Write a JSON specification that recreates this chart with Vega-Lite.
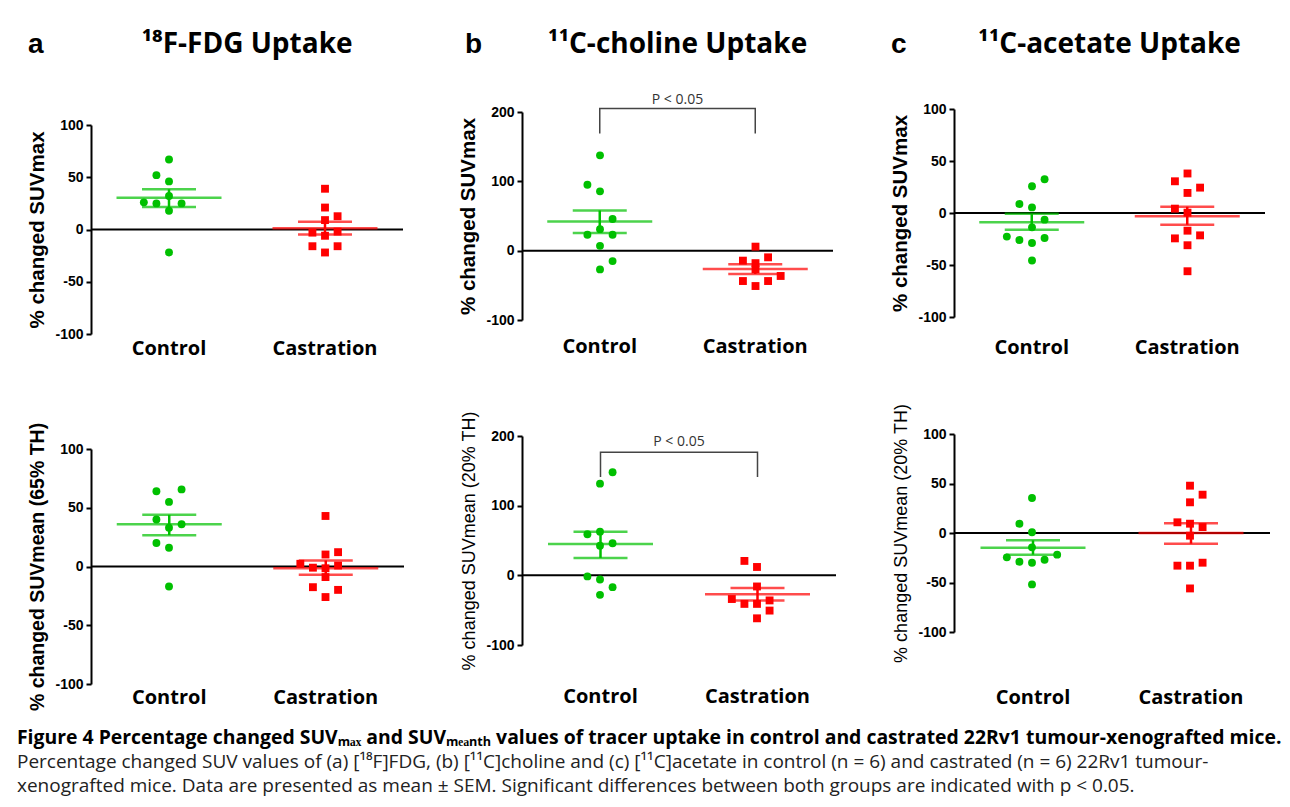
{
"$schema": "https://vega.github.io/schema/vega-lite/v6.json",
"background": "white",
"padding": {"left": 16, "top": 31, "right": 5, "bottom": 5},
"datasets": {
"pts": [
{"p":"a1","g":"Control","v":67,"c":0},{"p":"a1","g":"Control","v":52,"c":-1},{"p":"a1","g":"Control","v":46,"c":0},{"p":"a1","g":"Control","v":32,"c":0},{"p":"a1","g":"Control","v":26,"c":-2},{"p":"a1","g":"Control","v":25,"c":-1},{"p":"a1","g":"Control","v":25,"c":1},{"p":"a1","g":"Control","v":18,"c":0},{"p":"a1","g":"Control","v":-22,"c":0},
{"p":"a1","g":"Castration","v":39,"c":0},{"p":"a1","g":"Castration","v":21,"c":0},{"p":"a1","g":"Castration","v":12.7,"c":1},{"p":"a1","g":"Castration","v":9,"c":0},{"p":"a1","g":"Castration","v":-3,"c":-1},{"p":"a1","g":"Castration","v":-6,"c":0},{"p":"a1","g":"Castration","v":-2,"c":1},{"p":"a1","g":"Castration","v":-16,"c":-1},{"p":"a1","g":"Castration","v":-16,"c":1},{"p":"a1","g":"Castration","v":-22,"c":0},
{"p":"a2","g":"Control","v":64,"c":-1},{"p":"a2","g":"Control","v":65.6,"c":1},{"p":"a2","g":"Control","v":55,"c":0},{"p":"a2","g":"Control","v":40,"c":-1},{"p":"a2","g":"Control","v":33,"c":0},{"p":"a2","g":"Control","v":36,"c":1},{"p":"a2","g":"Control","v":20,"c":-1},{"p":"a2","g":"Control","v":16,"c":0},{"p":"a2","g":"Control","v":-17,"c":0},
{"p":"a2","g":"Castration","v":43,"c":0},{"p":"a2","g":"Castration","v":10.2,"c":0},{"p":"a2","g":"Castration","v":12.2,"c":1},{"p":"a2","g":"Castration","v":2.3,"c":-2},{"p":"a2","g":"Castration","v":-1,"c":-1},{"p":"a2","g":"Castration","v":-1.5,"c":0},{"p":"a2","g":"Castration","v":0.8,"c":1},{"p":"a2","g":"Castration","v":-9,"c":0},{"p":"a2","g":"Castration","v":-17.6,"c":-1},{"p":"a2","g":"Castration","v":-19.9,"c":1},{"p":"a2","g":"Castration","v":-26,"c":0},
{"p":"b1","g":"Control","v":137.5,"c":0},{"p":"b1","g":"Control","v":95,"c":-1},{"p":"b1","g":"Control","v":85.6,"c":0},{"p":"b1","g":"Control","v":45.7,"c":1},{"p":"b1","g":"Control","v":31,"c":0},{"p":"b1","g":"Control","v":23,"c":-1},{"p":"b1","g":"Control","v":23,"c":1},{"p":"b1","g":"Control","v":7,"c":0},{"p":"b1","g":"Control","v":-15,"c":1},{"p":"b1","g":"Control","v":-27,"c":0},
{"p":"b1","g":"Castration","v":5.8,"c":0},{"p":"b1","g":"Castration","v":-14.4,"c":-1},{"p":"b1","g":"Castration","v":-9.6,"c":1},{"p":"b1","g":"Castration","v":-18,"c":0},{"p":"b1","g":"Castration","v":-27,"c":0},{"p":"b1","g":"Castration","v":-36.5,"c":2},{"p":"b1","g":"Castration","v":-43.8,"c":-1},{"p":"b1","g":"Castration","v":-43.8,"c":1},{"p":"b1","g":"Castration","v":-51,"c":0},
{"p":"b2","g":"Control","v":148,"c":1},{"p":"b2","g":"Control","v":131.6,"c":0},{"p":"b2","g":"Control","v":59,"c":-1},{"p":"b2","g":"Control","v":62.7,"c":0},{"p":"b2","g":"Control","v":46,"c":1},{"p":"b2","g":"Control","v":42.4,"c":0},{"p":"b2","g":"Control","v":-1.5,"c":-1},{"p":"b2","g":"Control","v":-6,"c":0},{"p":"b2","g":"Control","v":-17,"c":1},{"p":"b2","g":"Control","v":-28,"c":0},
{"p":"b2","g":"Castration","v":20.7,"c":-1},{"p":"b2","g":"Castration","v":12,"c":0},{"p":"b2","g":"Castration","v":-16,"c":0},{"p":"b2","g":"Castration","v":-34,"c":-2},{"p":"b2","g":"Castration","v":-41,"c":-1},{"p":"b2","g":"Castration","v":-41,"c":0},{"p":"b2","g":"Castration","v":-36,"c":1},{"p":"b2","g":"Castration","v":-50.6,"c":1},{"p":"b2","g":"Castration","v":-61.7,"c":0},
{"p":"c1","g":"Control","v":32.5,"c":1},{"p":"c1","g":"Control","v":25.7,"c":0},{"p":"c1","g":"Control","v":8.7,"c":-1},{"p":"c1","g":"Control","v":5.4,"c":0},{"p":"c1","g":"Control","v":-6.4,"c":1},{"p":"c1","g":"Control","v":-13.8,"c":0},{"p":"c1","g":"Control","v":-22.7,"c":-2},{"p":"c1","g":"Control","v":-26,"c":-1},{"p":"c1","g":"Control","v":-24,"c":1},{"p":"c1","g":"Control","v":-28.8,"c":0},{"p":"c1","g":"Control","v":-45.7,"c":0},
{"p":"c1","g":"Castration","v":38,"c":0},{"p":"c1","g":"Castration","v":30.5,"c":-1},{"p":"c1","g":"Castration","v":24.4,"c":1},{"p":"c1","g":"Castration","v":19.3,"c":0},{"p":"c1","g":"Castration","v":4.2,"c":-1},{"p":"c1","g":"Castration","v":0.3,"c":0},{"p":"c1","g":"Castration","v":-17,"c":0},{"p":"c1","g":"Castration","v":-24.4,"c":-1},{"p":"c1","g":"Castration","v":-21.5,"c":1},{"p":"c1","g":"Castration","v":-31,"c":0},{"p":"c1","g":"Castration","v":-56,"c":0},
{"p":"c2","g":"Control","v":35.4,"c":0},{"p":"c2","g":"Control","v":9.4,"c":-1},{"p":"c2","g":"Control","v":0.7,"c":0},{"p":"c2","g":"Control","v":-14.5,"c":0},{"p":"c2","g":"Control","v":-24.6,"c":-2},{"p":"c2","g":"Control","v":-21.9,"c":2},{"p":"c2","g":"Control","v":-29,"c":-1},{"p":"c2","g":"Control","v":-30,"c":0},{"p":"c2","g":"Control","v":-27,"c":1},{"p":"c2","g":"Control","v":-51.9,"c":0},
{"p":"c2","g":"Castration","v":47.8,"c":0},{"p":"c2","g":"Castration","v":38.7,"c":1},{"p":"c2","g":"Castration","v":31,"c":0},{"p":"c2","g":"Castration","v":10.8,"c":-1},{"p":"c2","g":"Castration","v":9.4,"c":0},{"p":"c2","g":"Castration","v":6,"c":1},{"p":"c2","g":"Castration","v":-2.7,"c":0},{"p":"c2","g":"Castration","v":-33,"c":-1},{"p":"c2","g":"Castration","v":-33,"c":0},{"p":"c2","g":"Castration","v":-30,"c":1},{"p":"c2","g":"Castration","v":-56,"c":0}
],
"sum": [
{"p":"a1","g":"Control","mean":30.4,"lo":21.5,"hi":38.5},{"p":"a1","g":"Castration","mean":1.3,"lo":-4.8,"hi":7.4},
{"p":"a2","g":"Control","mean":36,"lo":26.7,"hi":44},{"p":"a2","g":"Castration","mean":-1.4,"lo":-7.1,"hi":5.1},
{"p":"b1","g":"Control","mean":42,"lo":25.5,"hi":58},{"p":"b1","g":"Castration","mean":-26.4,"lo":-33.6,"hi":-19.7},
{"p":"b2","g":"Control","mean":44.8,"lo":25,"hi":62.7},{"p":"b2","g":"Castration","mean":-27,"lo":-36,"hi":-18.3},
{"p":"c1","g":"Control","mean":-8.8,"lo":-16.2,"hi":-0.8},{"p":"c1","g":"Castration","mean":-3.2,"lo":-11.3,"hi":6},
{"p":"c2","g":"Control","mean":-15,"lo":-21.9,"hi":-7.4},{"p":"c2","g":"Castration","mean":0,"lo":-10.8,"hi":9.8}
],
"brk": [
{"p":"b1","g":"Control","y":169,"k":0},{"p":"b1","g":"Control","y":205,"k":1},{"p":"b1","g":"Castration","y":205,"k":2},{"p":"b1","g":"Castration","y":169,"k":3},
{"p":"b2","g":"Control","y":141,"k":0},{"p":"b2","g":"Control","y":176.5,"k":1},{"p":"b2","g":"Castration","y":176.5,"k":2},{"p":"b2","g":"Castration","y":141,"k":3}
],
"ptxt": [
{"p":"b1","g":"Castration","y":218,"t":"P < 0.05"},
{"p":"b2","g":"Castration","y":191,"t":"P < 0.05"}
]
},
"title": {
"text": "Figure 4 Percentage changed SUVₘₐₓ and SUVₘₑₐₙₜₕ values of tracer uptake in control and castrated 22Rv1 tumour-xenografted mice.",
"subtitle": ["Percentage changed SUV values of (a) [¹⁸F]FDG, (b) [¹¹C]choline and (c) [¹¹C]acetate in control (n = 6) and castrated (n = 6) 22Rv1 tumour-", "xenografted mice. Data are presented as mean ± SEM. Significant differences between both groups are indicated with p < 0.05."],
"orient": "bottom", "anchor": "start", "frame": "bounds", "dx": -11, "offset": 18,
"font": "Open Sans", "fontSize": 19.4, "fontWeight": "bold", "color": "black",
"subtitleFont": "Open Sans", "subtitleFontSize": 19, "subtitleColor": "#222", "subtitleLineHeight": 24, "subtitlePadding": 5
},
"columns": 3,
"spacing": 53,
"concat": [
{
"title": {"text": "a", "anchor": "start", "frame": "bounds", "font": "Liberation Sans", "fontSize": 28, "fontWeight": "bold", "color": "black", "offset": -28},
"spacing": 64,
"vconcat": [
{
"spacing": 48,
"vconcat": [
{"width": 312, "height": 1, "data": {"values": []}, "mark": "point",
 "title": {"text": "¹⁸F-FDG Uptake", "anchor": "middle", "frame": "group", "font": "Open Sans", "fontSize": 28, "fontWeight": "bold", "color": "black", "offset": 10}},
{
"width": 312, "height": 209,
"layer": [
{"data": {"values": [{}]}, "mark": {"type": "rule", "color": "black", "strokeWidth": 2}, "encoding": {"y": {"datum": 0, "type": "quantitative"}}},
{"data": {"name": "pts"}, "transform": [{"filter": "datum.p === 'a1'"}], "mark": {"type": "point", "filled": true, "opacity": 1, "size": 62},
 "encoding": {
 "x": {"field": "g", "type": "nominal", "sort": ["Control","Castration"], "scale": {"type": "band", "domain": ["Control","Castration"], "paddingInner": 0, "paddingOuter": 0}, "axis": {"title": null, "labelPadding": 4}},
 "xOffset": {"field": "c", "type": "quantitative", "scale": {"domain": [-6.2, 6.2]}},
 "y": {"field": "v", "type": "quantitative", "scale": {"domain": [-100, 100], "nice": false, "zero": false}, "axis": {"title": "% changed SUVmax", "values": [-100,-50,0,50,100]}},
 "color": {"field": "g", "type": "nominal", "scale": {"domain": ["Control","Castration"], "range": ["#00c000","#ff0000"]}},
 "shape": {"field": "g", "type": "nominal", "scale": {"domain": ["Control","Castration"], "range": ["circle","square"]}}
 }},
{"data": {"name": "sum"}, "transform": [{"filter": "datum.p === 'a1'"}], "mark": {"type": "tick", "size": 105, "thickness": 2.5}, "encoding": {"x": {"field": "g", "type": "nominal"}, "y": {"field": "mean", "type": "quantitative"}, "color": {"field": "g", "type": "nominal"}}},
{"data": {"name": "sum"}, "transform": [{"filter": "datum.p === 'a1'"}], "mark": {"type": "tick", "size": 54, "thickness": 2.5}, "encoding": {"x": {"field": "g", "type": "nominal"}, "y": {"field": "lo", "type": "quantitative"}, "color": {"field": "g", "type": "nominal"}}},
{"data": {"name": "sum"}, "transform": [{"filter": "datum.p === 'a1'"}], "mark": {"type": "tick", "size": 54, "thickness": 2.5}, "encoding": {"x": {"field": "g", "type": "nominal"}, "y": {"field": "hi", "type": "quantitative"}, "color": {"field": "g", "type": "nominal"}}},
{"data": {"name": "sum"}, "transform": [{"filter": "datum.p === 'a1'"}], "mark": {"type": "rule", "strokeWidth": 2.5}, "encoding": {"x": {"field": "g", "type": "nominal"}, "y": {"field": "lo", "type": "quantitative"}, "y2": {"field": "hi"}, "color": {"field": "g", "type": "nominal"}}}
]
}
]
},
{
"width": 313, "height": 235,
"layer": [
{"data": {"values": [{}]}, "mark": {"type": "rule", "color": "black", "strokeWidth": 2}, "encoding": {"y": {"datum": 0, "type": "quantitative"}}},
{"data": {"name": "pts"}, "transform": [{"filter": "datum.p === 'a2'"}], "mark": {"type": "point", "filled": true, "opacity": 1, "size": 62},
 "encoding": {
 "x": {"field": "g", "type": "nominal", "sort": ["Control","Castration"], "scale": {"type": "band", "domain": ["Control","Castration"], "paddingInner": 0, "paddingOuter": 0}, "axis": {"title": null, "labelPadding": 3}},
 "xOffset": {"field": "c", "type": "quantitative", "scale": {"domain": [-6.2, 6.2]}},
 "y": {"field": "v", "type": "quantitative", "scale": {"domain": [-100, 100], "nice": false, "zero": false}, "axis": {"title": "% changed SUVmean (65% TH)", "titleFontSize": 19.5, "values": [-100,-50,0,50,100]}},
 "color": {"field": "g", "type": "nominal", "scale": {"domain": ["Control","Castration"], "range": ["#00c000","#ff0000"]}},
 "shape": {"field": "g", "type": "nominal", "scale": {"domain": ["Control","Castration"], "range": ["circle","square"]}}
 }},
{"data": {"name": "sum"}, "transform": [{"filter": "datum.p === 'a2'"}], "mark": {"type": "tick", "size": 105, "thickness": 2.5}, "encoding": {"x": {"field": "g", "type": "nominal"}, "y": {"field": "mean", "type": "quantitative"}, "color": {"field": "g", "type": "nominal"}}},
{"data": {"name": "sum"}, "transform": [{"filter": "datum.p === 'a2'"}], "mark": {"type": "tick", "size": 54, "thickness": 2.5}, "encoding": {"x": {"field": "g", "type": "nominal"}, "y": {"field": "lo", "type": "quantitative"}, "color": {"field": "g", "type": "nominal"}}},
{"data": {"name": "sum"}, "transform": [{"filter": "datum.p === 'a2'"}], "mark": {"type": "tick", "size": 54, "thickness": 2.5}, "encoding": {"x": {"field": "g", "type": "nominal"}, "y": {"field": "hi", "type": "quantitative"}, "color": {"field": "g", "type": "nominal"}}},
{"data": {"name": "sum"}, "transform": [{"filter": "datum.p === 'a2'"}], "mark": {"type": "rule", "strokeWidth": 2.5}, "encoding": {"x": {"field": "g", "type": "nominal"}, "y": {"field": "lo", "type": "quantitative"}, "y2": {"field": "hi"}, "color": {"field": "g", "type": "nominal"}}}
]
}
]
},
{
"title": {"text": "b", "anchor": "start", "frame": "bounds", "dx": 6, "font": "Liberation Sans", "fontSize": 28, "fontWeight": "bold", "color": "black", "offset": -28},
"spacing": 54,
"vconcat": [
{
"spacing": 22,
"vconcat": [
{"width": 311, "height": 1, "data": {"values": []}, "mark": "point",
 "title": {"text": "¹¹C-choline Uptake", "anchor": "middle", "frame": "group", "font": "Open Sans", "fontSize": 28, "fontWeight": "bold", "color": "black", "offset": 10}},
{
"width": 311, "height": 208,
"layer": [
{"data": {"values": [{}]}, "mark": {"type": "rule", "color": "black", "strokeWidth": 2}, "encoding": {"y": {"datum": 0, "type": "quantitative"}}},
{"data": {"name": "pts"}, "transform": [{"filter": "datum.p === 'b1'"}], "mark": {"type": "point", "filled": true, "opacity": 1, "size": 62},
 "encoding": {
 "x": {"field": "g", "type": "nominal", "sort": ["Control","Castration"], "scale": {"type": "band", "domain": ["Control","Castration"], "paddingInner": 0, "paddingOuter": 0}, "axis": {"title": null, "labelPadding": 16}},
 "xOffset": {"field": "c", "type": "quantitative", "scale": {"domain": [-6.2, 6.2]}},
 "y": {"field": "v", "type": "quantitative", "scale": {"domain": [-100, 200], "nice": false, "zero": false}, "axis": {"title": "% changed SUVmax", "values": [-100,0,100,200]}},
 "color": {"field": "g", "type": "nominal", "scale": {"domain": ["Control","Castration"], "range": ["#00c000","#ff0000"]}},
 "shape": {"field": "g", "type": "nominal", "scale": {"domain": ["Control","Castration"], "range": ["circle","square"]}}
 }},
{"data": {"name": "sum"}, "transform": [{"filter": "datum.p === 'b1'"}], "mark": {"type": "tick", "size": 105, "thickness": 2.5}, "encoding": {"x": {"field": "g", "type": "nominal"}, "y": {"field": "mean", "type": "quantitative"}, "color": {"field": "g", "type": "nominal"}}},
{"data": {"name": "sum"}, "transform": [{"filter": "datum.p === 'b1'"}], "mark": {"type": "tick", "size": 54, "thickness": 2.5}, "encoding": {"x": {"field": "g", "type": "nominal"}, "y": {"field": "lo", "type": "quantitative"}, "color": {"field": "g", "type": "nominal"}}},
{"data": {"name": "sum"}, "transform": [{"filter": "datum.p === 'b1'"}], "mark": {"type": "tick", "size": 54, "thickness": 2.5}, "encoding": {"x": {"field": "g", "type": "nominal"}, "y": {"field": "hi", "type": "quantitative"}, "color": {"field": "g", "type": "nominal"}}},
{"data": {"name": "sum"}, "transform": [{"filter": "datum.p === 'b1'"}], "mark": {"type": "rule", "strokeWidth": 2.5}, "encoding": {"x": {"field": "g", "type": "nominal"}, "y": {"field": "lo", "type": "quantitative"}, "y2": {"field": "hi"}, "color": {"field": "g", "type": "nominal"}}},
{"data": {"name": "brk"}, "transform": [{"filter": "datum.p === 'b1'"}], "mark": {"type": "line", "color": "#444", "strokeWidth": 1.5}, "encoding": {"x": {"field": "g", "type": "nominal"}, "y": {"field": "y", "type": "quantitative"}, "order": {"field": "k", "type": "quantitative"}}},
{"data": {"name": "ptxt"}, "transform": [{"filter": "datum.p === 'b1'"}], "mark": {"type": "text", "font": "Open Sans", "fontSize": 14, "color": "#333", "baseline": "middle"}, "encoding": {"x": {"field": "g", "type": "nominal", "bandPosition": 0}, "y": {"field": "y", "type": "quantitative"}, "text": {"field": "t"}}}
]
}
]
},
{
"width": 314, "height": 209,
"layer": [
{"data": {"values": [{}]}, "mark": {"type": "rule", "color": "black", "strokeWidth": 2}, "encoding": {"y": {"datum": 0, "type": "quantitative"}}},
{"data": {"name": "pts"}, "transform": [{"filter": "datum.p === 'b2'"}], "mark": {"type": "point", "filled": true, "opacity": 1, "size": 62},
 "encoding": {
 "x": {"field": "g", "type": "nominal", "sort": ["Control","Castration"], "scale": {"type": "band", "domain": ["Control","Castration"], "paddingInner": 0, "paddingOuter": 0}, "axis": {"title": null, "labelPadding": 41}},
 "xOffset": {"field": "c", "type": "quantitative", "scale": {"domain": [-6.2, 6.2]}},
 "y": {"field": "v", "type": "quantitative", "scale": {"domain": [-100, 200], "nice": false, "zero": false}, "axis": {"title": "% changed SUVmean (20% TH)", "titleFontWeight": "normal", "titleFontSize": 18, "values": [-100,0,100,200]}},
 "color": {"field": "g", "type": "nominal", "scale": {"domain": ["Control","Castration"], "range": ["#00c000","#ff0000"]}},
 "shape": {"field": "g", "type": "nominal", "scale": {"domain": ["Control","Castration"], "range": ["circle","square"]}}
 }},
{"data": {"name": "sum"}, "transform": [{"filter": "datum.p === 'b2'"}], "mark": {"type": "tick", "size": 105, "thickness": 2.5}, "encoding": {"x": {"field": "g", "type": "nominal"}, "y": {"field": "mean", "type": "quantitative"}, "color": {"field": "g", "type": "nominal"}}},
{"data": {"name": "sum"}, "transform": [{"filter": "datum.p === 'b2'"}], "mark": {"type": "tick", "size": 54, "thickness": 2.5}, "encoding": {"x": {"field": "g", "type": "nominal"}, "y": {"field": "lo", "type": "quantitative"}, "color": {"field": "g", "type": "nominal"}}},
{"data": {"name": "sum"}, "transform": [{"filter": "datum.p === 'b2'"}], "mark": {"type": "tick", "size": 54, "thickness": 2.5}, "encoding": {"x": {"field": "g", "type": "nominal"}, "y": {"field": "hi", "type": "quantitative"}, "color": {"field": "g", "type": "nominal"}}},
{"data": {"name": "sum"}, "transform": [{"filter": "datum.p === 'b2'"}], "mark": {"type": "rule", "strokeWidth": 2.5}, "encoding": {"x": {"field": "g", "type": "nominal"}, "y": {"field": "lo", "type": "quantitative"}, "y2": {"field": "hi"}, "color": {"field": "g", "type": "nominal"}}},
{"data": {"name": "brk"}, "transform": [{"filter": "datum.p === 'b2'"}], "mark": {"type": "line", "color": "#444", "strokeWidth": 1.5}, "encoding": {"x": {"field": "g", "type": "nominal"}, "y": {"field": "y", "type": "quantitative"}, "order": {"field": "k", "type": "quantitative"}}},
{"data": {"name": "ptxt"}, "transform": [{"filter": "datum.p === 'b2'"}], "mark": {"type": "text", "font": "Open Sans", "fontSize": 14, "color": "#333", "baseline": "middle"}, "encoding": {"x": {"field": "g", "type": "nominal", "bandPosition": 0}, "y": {"field": "y", "type": "quantitative"}, "text": {"field": "t"}}}
]
}
]
},
{
"title": {"text": "c", "anchor": "start", "frame": "bounds", "font": "Liberation Sans", "fontSize": 28, "fontWeight": "bold", "color": "black", "offset": -28},
"spacing": 46,
"vconcat": [
{
"spacing": 32,
"vconcat": [
{"width": 311, "height": 1, "data": {"values": []}, "mark": "point",
 "title": {"text": "¹¹C-acetate Uptake", "anchor": "middle", "frame": "group", "font": "Open Sans", "fontSize": 28, "fontWeight": "bold", "color": "black", "offset": 10}},
{
"width": 311, "height": 208,
"layer": [
{"data": {"values": [{}]}, "mark": {"type": "rule", "color": "black", "strokeWidth": 2}, "encoding": {"y": {"datum": 0, "type": "quantitative"}}},
{"data": {"name": "pts"}, "transform": [{"filter": "datum.p === 'c1'"}], "mark": {"type": "point", "filled": true, "opacity": 1, "size": 62},
 "encoding": {
 "x": {"field": "g", "type": "nominal", "sort": ["Control","Castration"], "scale": {"type": "band", "domain": ["Control","Castration"], "paddingInner": 0, "paddingOuter": 0}, "axis": {"title": null, "labelPadding": 20}},
 "xOffset": {"field": "c", "type": "quantitative", "scale": {"domain": [-6.2, 6.2]}},
 "y": {"field": "v", "type": "quantitative", "scale": {"domain": [-100, 100], "nice": false, "zero": false}, "axis": {"title": "% changed SUVmax", "values": [-100,-50,0,50,100]}},
 "color": {"field": "g", "type": "nominal", "scale": {"domain": ["Control","Castration"], "range": ["#00c000","#ff0000"]}},
 "shape": {"field": "g", "type": "nominal", "scale": {"domain": ["Control","Castration"], "range": ["circle","square"]}}
 }},
{"data": {"name": "sum"}, "transform": [{"filter": "datum.p === 'c1'"}], "mark": {"type": "tick", "size": 105, "thickness": 2.5}, "encoding": {"x": {"field": "g", "type": "nominal"}, "y": {"field": "mean", "type": "quantitative"}, "color": {"field": "g", "type": "nominal"}}},
{"data": {"name": "sum"}, "transform": [{"filter": "datum.p === 'c1'"}], "mark": {"type": "tick", "size": 54, "thickness": 2.5}, "encoding": {"x": {"field": "g", "type": "nominal"}, "y": {"field": "lo", "type": "quantitative"}, "color": {"field": "g", "type": "nominal"}}},
{"data": {"name": "sum"}, "transform": [{"filter": "datum.p === 'c1'"}], "mark": {"type": "tick", "size": 54, "thickness": 2.5}, "encoding": {"x": {"field": "g", "type": "nominal"}, "y": {"field": "hi", "type": "quantitative"}, "color": {"field": "g", "type": "nominal"}}},
{"data": {"name": "sum"}, "transform": [{"filter": "datum.p === 'c1'"}], "mark": {"type": "rule", "strokeWidth": 2.5}, "encoding": {"x": {"field": "g", "type": "nominal"}, "y": {"field": "lo", "type": "quantitative"}, "y2": {"field": "hi"}, "color": {"field": "g", "type": "nominal"}}}
]
}
]
},
{
"width": 316, "height": 198,
"layer": [
{"data": {"values": [{}]}, "mark": {"type": "rule", "color": "black", "strokeWidth": 2}, "encoding": {"y": {"datum": 0, "type": "quantitative"}}},
{"data": {"name": "pts"}, "transform": [{"filter": "datum.p === 'c2'"}], "mark": {"type": "point", "filled": true, "opacity": 1, "size": 62},
 "encoding": {
 "x": {"field": "g", "type": "nominal", "sort": ["Control","Castration"], "scale": {"type": "band", "domain": ["Control","Castration"], "paddingInner": 0, "paddingOuter": 0}, "axis": {"title": null, "labelPadding": 55}},
 "xOffset": {"field": "c", "type": "quantitative", "scale": {"domain": [-6.2, 6.2]}},
 "y": {"field": "v", "type": "quantitative", "scale": {"domain": [-100, 100], "nice": false, "zero": false}, "axis": {"title": "% changed SUVmean (20% TH)", "titleFontWeight": "normal", "titleFontSize": 18, "values": [-100,-50,0,50,100]}},
 "color": {"field": "g", "type": "nominal", "scale": {"domain": ["Control","Castration"], "range": ["#00c000","#ff0000"]}},
 "shape": {"field": "g", "type": "nominal", "scale": {"domain": ["Control","Castration"], "range": ["circle","square"]}}
 }},
{"data": {"name": "sum"}, "transform": [{"filter": "datum.p === 'c2'"}], "mark": {"type": "tick", "size": 105, "thickness": 2.5}, "encoding": {"x": {"field": "g", "type": "nominal"}, "y": {"field": "mean", "type": "quantitative"}, "color": {"field": "g", "type": "nominal"}}},
{"data": {"name": "sum"}, "transform": [{"filter": "datum.p === 'c2'"}], "mark": {"type": "tick", "size": 54, "thickness": 2.5}, "encoding": {"x": {"field": "g", "type": "nominal"}, "y": {"field": "lo", "type": "quantitative"}, "color": {"field": "g", "type": "nominal"}}},
{"data": {"name": "sum"}, "transform": [{"filter": "datum.p === 'c2'"}], "mark": {"type": "tick", "size": 54, "thickness": 2.5}, "encoding": {"x": {"field": "g", "type": "nominal"}, "y": {"field": "hi", "type": "quantitative"}, "color": {"field": "g", "type": "nominal"}}},
{"data": {"name": "sum"}, "transform": [{"filter": "datum.p === 'c2'"}], "mark": {"type": "rule", "strokeWidth": 2.5}, "encoding": {"x": {"field": "g", "type": "nominal"}, "y": {"field": "lo", "type": "quantitative"}, "y2": {"field": "hi"}, "color": {"field": "g", "type": "nominal"}}}
]
}
]
}
],
"config": {
"view": {"stroke": null},
"legend": {"disable": true},
"axisY": {"domainColor": "black", "domainWidth": 2, "tickColor": "black", "tickWidth": 2, "tickSize": 5, "labelFont": "Liberation Sans", "labelFontWeight": "bold", "labelFontSize": 14, "labelColor": "black", "labelPadding": 3, "labelExpr": "replace(datum.label, '−', '-')", "titleFont": "Liberation Sans", "titleFontWeight": "bold", "titleFontSize": 20.5, "titleColor": "black", "titlePadding": 7, "grid": false},
"axisX": {"domain": false, "ticks": false, "labelFont": "Open Sans", "labelFontWeight": "bold", "labelFontSize": 20, "labelColor": "black", "labelAngle": 0, "grid": false}
}
}
